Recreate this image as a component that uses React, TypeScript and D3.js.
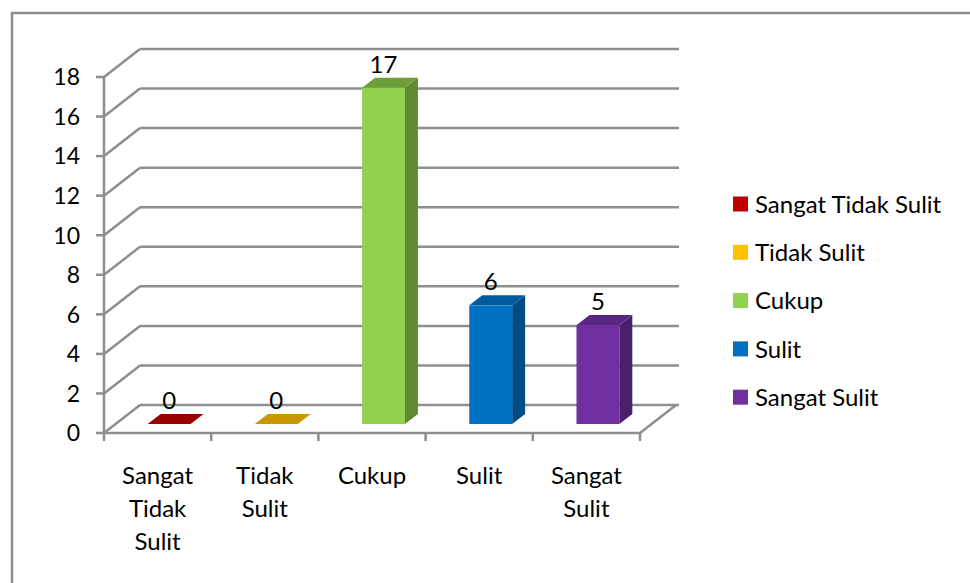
import React from 'react';
import * as d3 from 'd3';

const categories = ['Sangat Tidak Sulit', 'Tidak Sulit', 'Cukup', 'Sulit', 'Sangat Sulit'];
const values = [0, 0, 17, 6, 5];
const yTicks = [0, 2, 4, 6, 8, 10, 12, 14, 16, 18];

// front / side / top shades per category
const palette = [
  { legend: '#C00000', front: '#C00000', side: '#8A0000', top: '#9A0000' },
  { legend: '#FFC000', front: '#E0A800', side: '#A67C00', top: '#C99700' },
  { legend: '#92D050', front: '#92D050', side: '#5E8A30', top: '#6E9E3A' },
  { legend: '#0070C0', front: '#0070C0', side: '#004C86', top: '#005A9E' },
  { legend: '#7030A0', front: '#7030A0', side: '#4A1F6C', top: '#5A2585' },
];

const FONT = 'Lato, "Open Sans", sans-serif';
const GRID = '#8e8e8e';

const App = () => {
  const W = 970;
  const H = 583;

  // depth of the 3D box (oblique projection)
  const DX = 36;
  const DY = -28;
  const f0 = 0.32; // bar front plane
  const f1 = 0.68; // bar back plane

  const x = d3.scaleBand<string>().domain(categories).range([104, 640]).padding(0);
  const y = d3.scaleLinear().domain([0, 18]).range([433, 77]);

  const bw = x.bandwidth();
  const barL = (c: string) => x(c)! + bw * 0.3;
  const barR = (c: string) => x(c)! + bw * 0.7;

  const pts = (p: [number, number][]) => p.map((q) => q.join(',')).join(' ');

  return (
    <svg width={W} height={H} style={{ position: 'absolute', left: 0, top: 0 }}>
      <rect x={0} y={0} width={W} height={H} fill="#fff" />
      {/* chart frame */}
      <rect x={12} y={13} width={W + 20} height={H + 20} fill="none" stroke="#8c8c8c" strokeWidth={2.5} />

      {/* gridlines: side wall + back wall */}
      {yTicks.map((t) => (
        <g key={t}>
          <line x1={104} y1={y(t)} x2={104 + DX} y2={y(t) + DY} stroke={GRID} strokeWidth={2.5} />
          <line x1={104 + DX} y1={y(t) + DY} x2={679} y2={y(t) + DY} stroke={GRID} strokeWidth={2.5} />
        </g>
      ))}

      {/* floor */}
      <line x1={104} y1={y(0)} x2={640} y2={y(0)} stroke={GRID} strokeWidth={2.5} />
      <line x1={640} y1={y(0)} x2={640 + DX} y2={y(0) + DY} stroke={GRID} strokeWidth={2.5} />

      {/* y axis */}
      <line x1={104} y1={y(0) + 1} x2={104} y2={y(18)} stroke={GRID} strokeWidth={2.5} />
      {yTicks.map((t) => (
        <g key={'yt' + t}>
          <line x1={96} y1={y(t)} x2={104} y2={y(t)} stroke={GRID} strokeWidth={2.5} />
          <text x={80} y={y(t)} dy="0.36em" textAnchor="end" fontFamily={FONT} fontSize={23} fill="#000">
            {t}
          </text>
        </g>
      ))}

      {/* category ticks */}
      {[...categories.map((c) => x(c)!), 640].map((cx, i) => (
        <line key={'ct' + i} x1={cx} y1={y(0)} x2={cx} y2={y(0) + 8} stroke={GRID} strokeWidth={2.5} />
      ))}

      {/* bars */}
      {categories.map((c, i) => {
        const v = values[i];
        const col = palette[i];
        const l0 = barL(c) + f0 * DX;
        const r0 = barR(c) + f0 * DX;
        const b0 = y(0) + f0 * DY;
        const t0 = y(v) + f0 * DY;
        const dx = (f1 - f0) * DX;
        const dy = (f1 - f0) * DY;
        const labelX = (l0 + r0) / 2;
        const labelY = t0 + dy - 5;
        return (
          <g key={c}>
            {v > 0 && (
              <>
                <rect x={l0} y={t0} width={r0 - l0} height={b0 - t0} fill={col.front} />
                <polygon points={pts([[r0, t0], [r0 + dx, t0 + dy], [r0 + dx, b0 + dy], [r0, b0]])} fill={col.side} />
              </>
            )}
            <polygon points={pts([[l0, t0], [r0, t0], [r0 + dx, t0 + dy], [l0 + dx, t0 + dy]])} fill={col.top} />
            <text x={labelX} y={labelY} textAnchor="middle" fontFamily={FONT} fontSize={24} fill="#000">
              {v}
            </text>
          </g>
        );
      })}

      {/* category labels */}
      {categories.map((c) => (
        <text key={'cl' + c} x={x(c)! + bw / 2} textAnchor="middle" fontFamily={FONT} fontSize={24} fill="#000">
          {c.split(' ').map((w, j) => (
            <tspan key={j} x={x(c)! + bw / 2} y={475 + j * 33} dy="0.36em">
              {w}
            </tspan>
          ))}
        </text>
      ))}

      {/* legend */}
      {categories.map((c, i) => (
        <g key={'lg' + c} transform={`translate(733, ${204 + i * 48.3})`}>
          <rect x={0} y={-7.5} width={15} height={15} fill={palette[i].legend} />
          <text x={22} y={0} dy="0.36em" fontFamily={FONT} fontSize={24} fill="#000">
            {c}
          </text>
        </g>
      ))}
    </svg>
  );
};

export default App;
